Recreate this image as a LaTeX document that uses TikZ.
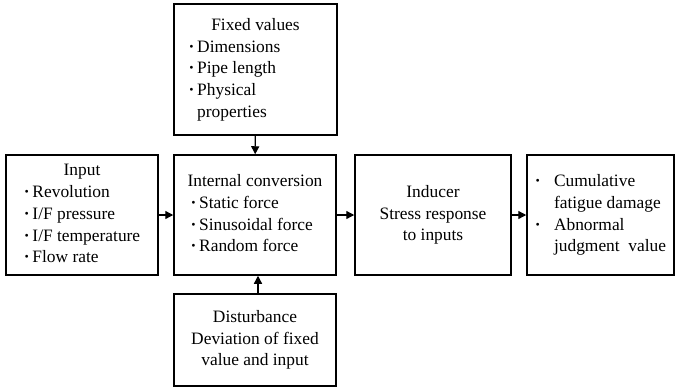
\documentclass[tikz,border=0pt]{standalone}
\usepackage{fontspec}
\setmainfont{Liberation Serif}
\usetikzlibrary{arrows.meta}

% bullet of a list line, and the indent of its second line
\newcommand{\dotitem}[1][0.5em]{\makebox[#1][l]{\textbf{·}}}
\newcommand{\dotpad}[1][0.5em]{\hspace*{#1}}

\begin{document}
\begin{tikzpicture}[x=1pt, y=-1pt]
	\tikzstyle{block} = [draw=black, line width=1.5pt, inner sep=0pt, minimum height=120pt, font=\fontsize{17.4}{21.7}\selectfont]
	\tikzstyle{flow}  = [line width=1.3pt, -{Triangle[length=8pt, width=8pt]}]

	\useasboundingbox (0,0) rectangle (676,388);

	\node[block, minimum width=163pt, minimum height=131pt] (fixed) at (255.5, 69.5)
		{\begin{tabular}{@{}p{134pt}@{}}
			\multicolumn{1}{@{}c@{}}{Fixed values}\\
			\dotitem Dimensions\\
			\dotitem Pipe length\\
			\dotitem Physical\\
			\dotpad properties
		\end{tabular}};

	\node[block, minimum width=152pt] (input) at (82, 215)
		{\begin{tabular}{@{}l@{}}
			\multicolumn{1}{@{}c@{}}{Input}\\
			\dotitem Revolution\\
			\dotitem I/F pressure\\
			\dotitem I/F temperature\\
			\dotitem Flow rate
		\end{tabular}};

	\node[block, minimum width=162pt] (internal) at (255, 215)
		{\begin{tabular}{@{}l@{}}
			\multicolumn{1}{@{}c@{}}{Internal conversion}\\
			\,\dotitem Static force\\
			\,\dotitem Sinusoidal force\\
			\,\dotitem Random force
		\end{tabular}};

	\node[block, minimum width=156pt, align=center] (inducer) at (433, 215)
		{Inducer\\Stress response\\to inputs};

	\node[block, minimum width=147pt] (output) at (600.5, 215)
		{\begin{tabular}{@{}l@{}}
			\dotitem[1.1em]Cumulative\\
			\dotpad[1.1em]fatigue damage\\
			\dotitem[1.1em]Abnormal\\
			\dotpad[1.1em]judgment\ \ value
		\end{tabular}};

	\node[block, minimum width=162pt, minimum height=92pt, align=center] (disturb) at (255, 340)
		{Disturbance\\Deviation of fixed\\value and input};

	% main chain, left to right
	\foreach \from/\to in {input/internal, internal/inducer, inducer/output}
		\draw[flow] (\from) -- (\to);

	% side inputs into the conversion block
	\draw[flow] (fixed) -- (internal);
	\draw[flow] ([xshift=3pt]disturb.north) -- ([xshift=3pt]internal.south);

\end{tikzpicture}
\end{document}
